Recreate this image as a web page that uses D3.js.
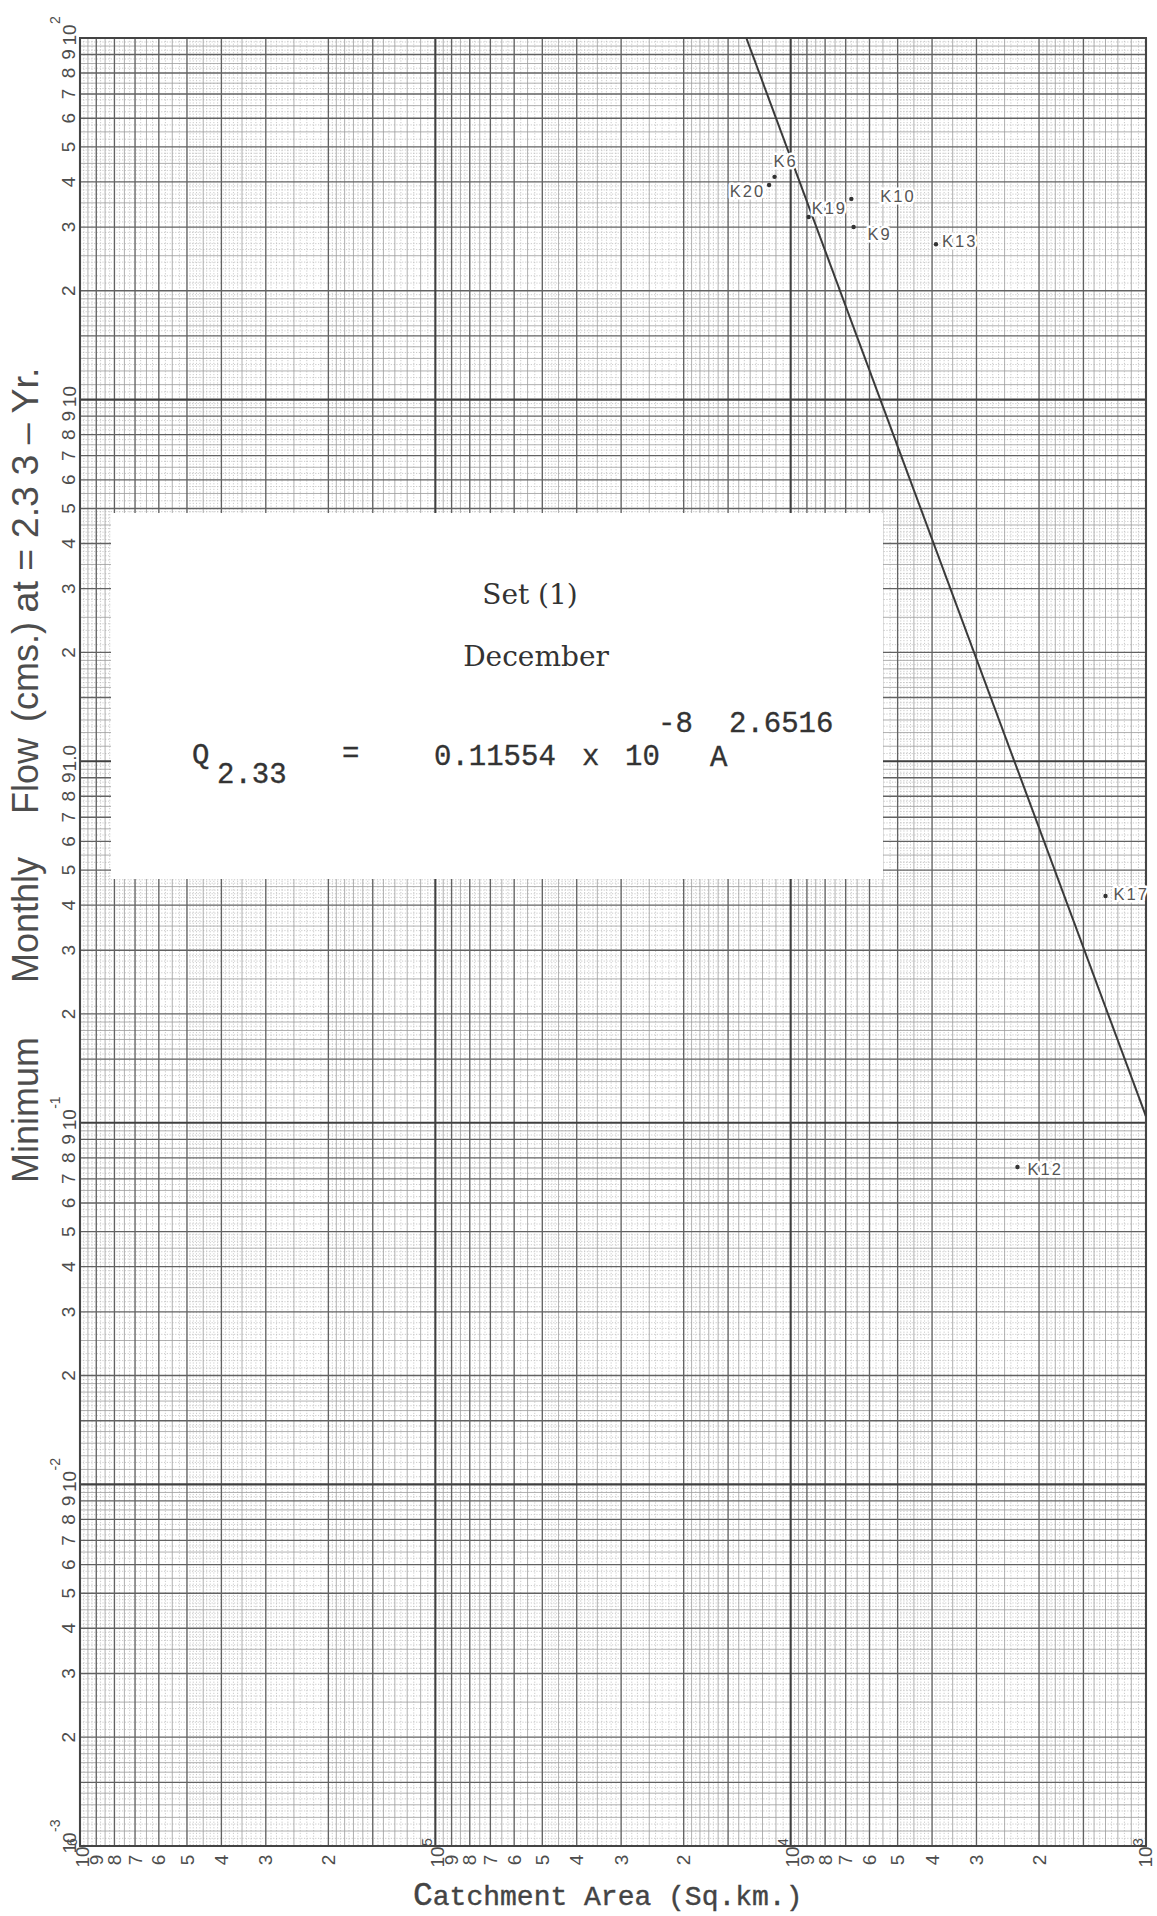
<!DOCTYPE html>
<html lang="en">
<head>
<meta charset="UTF-8">
<title>Minimum Monthly Flow vs Catchment Area</title>
<script src="https://d3js.org/d3.v7.min.js"></script>
<style>
  body { margin: 0; background: #fff; }
  svg { display: block; }
  .dot-rule { stroke: #b4b4b4; stroke-width: 0.7; stroke-dasharray: 1.2,1.6; }
  .fine-rule { stroke: #9c9c9c; stroke-width: 0.8; }
  .mid-rule { stroke: #626262; stroke-width: 1.35; }
  .dec-rule { stroke: #404040; stroke-width: 2.1; }
  .tick { font-family: "Liberation Sans", Arial, sans-serif; font-size: 19px; fill: #4d4d4d; }
  .tick-exp { font-family: "Liberation Sans", Arial, sans-serif; font-size: 14px; fill: #4d4d4d; }
  .ytitle { font-family: "Liberation Sans", Arial, sans-serif; font-size: 36px; fill: #4d4d4d; }
  .xtitle { font-family: "Liberation Mono", "Courier New", monospace; fill: #444; stroke: #444; stroke-width: 0.4; }
  .typed { font-family: "Liberation Mono", "Courier New", monospace; font-size: 29px; fill: #333; stroke: #333; stroke-width: 0.35; }
  .caption { font-family: "DejaVu Serif", Georgia, serif; font-size: 28px; fill: #333; }
  .station { font-family: "Liberation Sans", Arial, sans-serif; font-size: 16.5px; fill: #555; letter-spacing: 2px;
             stroke: #fff; stroke-width: 5; stroke-linejoin: round; paint-order: stroke; }
</style>
</head>
<body>
<svg id="chart"></svg>
<script>
const W = 1157, H = 1916;

// gauging stations
const stations = ["K6", "K20", "K19", "K10", "K9", "K13", "K17", "K12"];
const areaSqKm = [11100, 11500, 8900, 6750, 6650, 3900, 1300, 2300];
const flowCms = [41.3, 39.2, 32.0, 35.9, 30.0, 26.9, 0.424, 0.0755];

// fitted relation Q = a * A^b
const coefA = 0.11554e-8;
const expB = 2.6516;

// axis ticks
const tickDigits = [2, 3, 4, 5, 6, 7, 8, 9];
const xDecades = [1e6, 1e5, 1e4, 1e3];
const xDecadeExp = ["6", "5", "4", "3"];
const yDecades = [1e-3, 1e-2, 1e-1, 1, 10, 100];
const yDecadeBase = ["10", "10", "10", "1.0", "10", "10"];
const yDecadeExp = ["-3", "-2", "-1", "", "", "2"];

const svg = d3.select("#chart").attr("width", W).attr("height", H);

// catchment area runs backwards on this sheet: 10^6 at the left
const x = d3.scaleLog().domain([1e6, 1e3]).range([80, 1146]);
const y = d3.scaleLog().domain([1e-3, 1e2]).range([1846, 38]);
const L = 80, R = 1146, T = 38, B = 1846;

// rulings of the printed log-log paper, as multipliers within a decade
const rulingMid = [1.5, 2, 3, 4, 5, 6, 7, 8, 9];
const rulingFine = [1.1, 1.2, 1.3, 1.4, 1.6, 1.7, 1.8, 1.9, 2.5, 3.5, 4.5, 5.5, 6.5, 7.5, 8.5, 9.5];
const rulingDot = [
  ...d3.range(1.05, 2, 0.1),
  ...d3.range(2.1, 5, 0.1).filter(v => Math.round(v * 10) % 5 !== 0),
  ...d3.range(5.25, 10, 0.5)
];

const xStarts = [1e3, 1e4, 1e5];
const yStarts = [1e-3, 1e-2, 1e-1, 1, 10];
const spread = (starts, mults) => starts.flatMap(s => mults.map(m => s * m));

const grid = svg.append("g");

function vRules(vals, cls) {
  grid.append("g").selectAll("line").data(vals).join("line")
    .attr("class", cls)
    .attr("x1", d => x(d)).attr("x2", d => x(d))
    .attr("y1", T).attr("y2", B);
}
function hRules(vals, cls) {
  grid.append("g").selectAll("line").data(vals).join("line")
    .attr("class", cls)
    .attr("x1", L).attr("x2", R)
    .attr("y1", d => y(d)).attr("y2", d => y(d));
}

vRules(spread(xStarts, rulingDot), "dot-rule");
hRules(spread(yStarts, rulingDot), "dot-rule");
vRules(spread(xStarts, rulingFine), "fine-rule");
hRules(spread(yStarts, rulingFine), "fine-rule");
vRules(spread(xStarts, rulingMid), "mid-rule");
hRules(spread(yStarts, rulingMid), "mid-rule");
vRules(xDecades, "dec-rule");
hRules(yDecades, "dec-rule");

grid.append("rect")
  .attr("x", L).attr("y", T).attr("width", R - L).attr("height", B - T)
  .attr("fill", "none").attr("stroke", "#444").attr("stroke-width", 2);

// rotated label helper (reads bottom to top)
function upText(px, py, str, cls, anchor) {
  return svg.append("text")
    .attr("class", cls)
    .attr("transform", `translate(${px},${py}) rotate(-90)`)
    .attr("text-anchor", anchor || "middle")
    .attr("dy", "0.35em")
    .text(str);
}

// y axis tick labels
yStarts.forEach(s => tickDigits.forEach(k => upText(68, y(s * k), k, "tick")));
yDecades.forEach((v, i) => {
  upText(69, y(v) - 3, yDecadeBase[i], "tick");
  if (yDecadeExp[i]) upText(55, y(v) - 14, yDecadeExp[i], "tick-exp", "start");
});

// x axis tick labels
xStarts.forEach(s => tickDigits.forEach(k => upText(x(s * k), 1860, k, "tick")));
xDecades.forEach((v, i) => {
  upText(Math.min(x(v) + 2, 1145), 1857, "10", "tick");
  upText(x(v) - 8, 1846, xDecadeExp[i], "tick-exp", "start");
});

// y axis title, word by word
const yWords = ["Minimum", "Monthly", "Flow", "(cms.)", "at = 2.3 3 \u2013 Yr."];
const yWordCentre = [1110, 920, 776, 672, 490];
yWords.forEach((w, i) => {
  const t = upText(25, yWordCentre[i], w, "ytitle");
  if (i === 4) t.attr("textLength", 245).attr("lengthAdjust", "spacingAndGlyphs");
});

// x axis title
const xt = svg.append("text").attr("class", "xtitle").attr("x", 413).attr("y", 1905);
xt.append("tspan").attr("font-size", 33).text("C");
xt.append("tspan").attr("font-size", 28).text("atchment Area (Sq.km.)");

// pasted caption card
svg.append("rect")
  .attr("x", 111).attr("y", 513).attr("width", 772).attr("height", 366)
  .attr("fill", "#fff");

svg.append("text").attr("class", "caption").attr("x", 530).attr("y", 604)
  .attr("text-anchor", "middle").text("Set (1)");
svg.append("text").attr("class", "caption").attr("x", 536).attr("y", 666)
  .attr("text-anchor", "middle").text("December");

const typed = [
  ["Q", 192, 764],
  ["2.33", 217, 783],
  ["=", 342, 762],
  ["0.11554", 434, 765],
  ["x", 582, 765],
  ["10", 625, 765],
  ["-8", 658, 732],
  ["A", 710, 766],
  ["2.6516", 729, 732]
];
svg.selectAll("text.typed").data(typed).join("text")
  .attr("class", "typed")
  .attr("x", d => d[1]).attr("y", d => d[2])
  .text(d => d[0]);

// fitted line, from the top of the sheet down to A = 10^3
const aTop = Math.pow(100 / coefA, 1 / expB);
const fitPts = [aTop, 1e3].map(a => [a, coefA * Math.pow(a, expB)]);
svg.append("path")
  .datum(fitPts)
  .attr("fill", "none")
  .attr("stroke", "#3a3a3a")
  .attr("stroke-width", 2)
  .attr("d", d3.line().x(d => x(d[0])).y(d => y(d[1])));

// station points and their labels
const labelAt = {
  K6: [-1, -10, "start"], K20: [-4, 12, "end"], K19: [3, -3, "start"], K10: [29, 3, "start"],
  K9: [14, 13, "start"], K13: [6, 3, "start"], K17: [8, 4, "start"], K12: [10, 8, "start"]
};
const pts = stations.map((s, i) => ({ name: s, a: areaSqKm[i], q: flowCms[i] }));

svg.append("g").selectAll("text").data(pts).join("text")
  .attr("class", "station")
  .attr("x", d => x(d.a) + labelAt[d.name][0])
  .attr("y", d => y(d.q) + labelAt[d.name][1])
  .attr("text-anchor", d => labelAt[d.name][2])
  .text(d => d.name);

svg.append("g").selectAll("circle").data(pts).join("circle")
  .attr("cx", d => x(d.a))
  .attr("cy", d => y(d.q))
  .attr("r", 2.2)
  .attr("fill", "#333");
</script>
</body>
</html>
